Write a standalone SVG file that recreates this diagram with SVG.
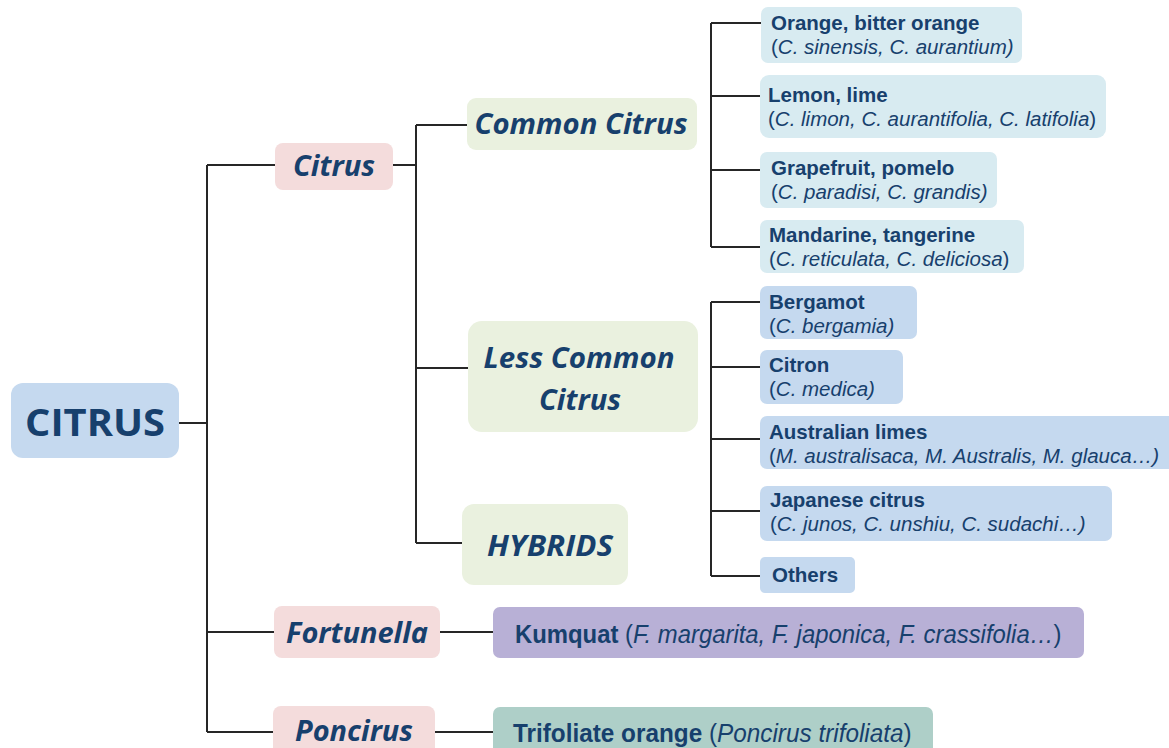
<svg xmlns="http://www.w3.org/2000/svg" width="1169" height="748" viewBox="0 0 1169 748">
<style>
.h{font-family:"Open Sans","Noto Sans",sans-serif;font-weight:bold;font-style:italic;fill:#17406d;text-anchor:middle}
.t{font-family:"Liberation Sans",Arial,sans-serif;font-weight:bold;font-size:20.5px;fill:#17406d}
.s{font-family:"Liberation Sans",Arial,sans-serif;font-size:20.5px;fill:#17406d}
.n{font-family:"Liberation Sans",Arial,sans-serif;font-size:25px;fill:#17406d}
.i{font-style:italic}
.c{fill:none;stroke:#262626;stroke-width:2}
.pink{fill:#f4dcdc}
.green{fill:#eaf1df}
.cyan{fill:#d8ebf1}
.blue{fill:#c5d9ef}
</style>
<g id="connectors" class="c">
<path d="M179 423H207M207 165V732M207 165H275M207 632H274M207 732H273"/>
<path d="M393 165H416M416 125V543M416 125H467M416 368H468M416 543H462"/>
<path d="M711 23V247M711 23H761M711 96H760M711 170H760M711 247H760"/>
<path d="M711 302V576M711 302H760M711 367H760M711 439H760M711 511H760M711 576H760"/>
<path d="M440 632H493M435 732H493"/>
</g>
<g id="citrus-root"><rect x="11" y="383" width="168" height="75" rx="12" class="blue"/><text x="95" y="436" style="font-family:'Open Sans','Noto Sans',sans-serif;font-weight:bold;font-size:38px;fill:#17406d;text-anchor:middle" textLength="140" lengthAdjust="spacingAndGlyphs">CITRUS</text></g>
<g id="citrus"><rect x="275" y="143" width="118" height="47" rx="8" class="pink"/><text x="334" y="176" class="h" font-size="28" textLength="82" lengthAdjust="spacingAndGlyphs">Citrus</text></g>
<g id="fortunella"><rect x="274" y="606" width="166" height="52" rx="8" class="pink"/><text x="357" y="643" class="h" font-size="28" textLength="142" lengthAdjust="spacingAndGlyphs">Fortunella</text></g>
<g id="poncirus"><rect x="273" y="706" width="162" height="50" rx="8" class="pink"/><text x="354" y="741" class="h" font-size="28" textLength="118" lengthAdjust="spacingAndGlyphs">Poncirus</text></g>
<g id="common-citrus"><rect x="467" y="98" width="230" height="52" rx="9" class="green"/><text x="581" y="134" class="h" font-size="28" textLength="213" lengthAdjust="spacingAndGlyphs">Common Citrus</text></g>
<g id="less-common-citrus"><rect x="468" y="321" width="230" height="111" rx="14" class="green"/><text x="579" y="368" class="h" font-size="28" textLength="191" lengthAdjust="spacingAndGlyphs">Less Common</text><text x="580" y="410" class="h" font-size="28" textLength="82" lengthAdjust="spacingAndGlyphs">Citrus</text></g>
<g id="hybrids"><rect x="462" y="504" width="166" height="81" rx="12" class="green"/><text x="550" y="556" class="h" font-size="28" textLength="126" lengthAdjust="spacingAndGlyphs">HYBRIDS</text></g>
<g id="orange"><rect x="761" y="7" width="261" height="56" rx="7" class="cyan"/><text x="771" y="30" class="t">Orange, bitter orange</text><text x="771" y="54" class="s">(<tspan class="i">C. sinensis, C. aurantium)</tspan></text></g>
<g id="lemon"><rect x="760" y="75" width="346" height="63" rx="9" class="cyan"/><text x="768" y="102" class="t">Lemon, lime</text><text x="768" y="126" class="s">(<tspan class="i">C. limon, C. aurantifolia, C. latifolia</tspan>)</text></g>
<g id="grapefruit"><rect x="760" y="152" width="237" height="56" rx="7" class="cyan"/><text x="771" y="175" class="t">Grapefruit, pomelo</text><text x="771" y="199" class="s">(<tspan class="i">C. paradisi, C. grandis)</tspan></text></g>
<g id="mandarine"><rect x="760" y="220" width="264" height="53" rx="7" class="cyan"/><text x="769" y="242" class="t">Mandarine, tangerine</text><text x="769" y="266" class="s">(<tspan class="i">C. reticulata, C. deliciosa</tspan>)</text></g>
<g id="bergamot"><rect x="760" y="286" width="157" height="53" rx="7" class="blue"/><text x="769" y="309" class="t">Bergamot</text><text x="769" y="333" class="s">(<tspan class="i">C. bergamia)</tspan></text></g>
<g id="citron"><rect x="760" y="350" width="143" height="54" rx="7" class="blue"/><text x="769" y="372" class="t">Citron</text><text x="769" y="396" class="s">(<tspan class="i">C. medica)</tspan></text></g>
<g id="australian"><rect x="760" y="416" width="420" height="53" rx="7" class="blue"/><text x="769" y="439" class="t">Australian limes</text><text x="769" y="463" class="s">(<tspan class="i">M. australisaca, M. Australis, M. glauca…)</tspan></text></g>
<g id="japanese"><rect x="760" y="486" width="352" height="55" rx="7" class="blue"/><text x="770" y="507" class="t">Japanese citrus</text><text x="770" y="531" class="s">(<tspan class="i">C. junos, C. unshiu, C. sudachi…)</tspan></text></g>
<g id="others"><rect x="760" y="557" width="95" height="36" rx="5" class="blue"/><text x="772" y="582" class="t">Others</text></g>
<g id="kumquat"><rect x="493" y="607" width="591" height="51" rx="7" fill="#b8b0d6"/><text transform="translate(515 643) scale(0.955 1)" class="n"><tspan font-weight="bold">Kumquat</tspan> (<tspan class="i">F. margarita, F. japonica, F. crassifolia…</tspan>)</text></g>
<g id="trifoliate"><rect x="493" y="707" width="440" height="50" rx="7" fill="#aecfc8"/><text transform="translate(513 742) scale(0.973 1)" class="n"><tspan font-weight="bold">Trifoliate orange</tspan> (<tspan class="i">Poncirus trifoliata</tspan>)</text></g>
</svg>
